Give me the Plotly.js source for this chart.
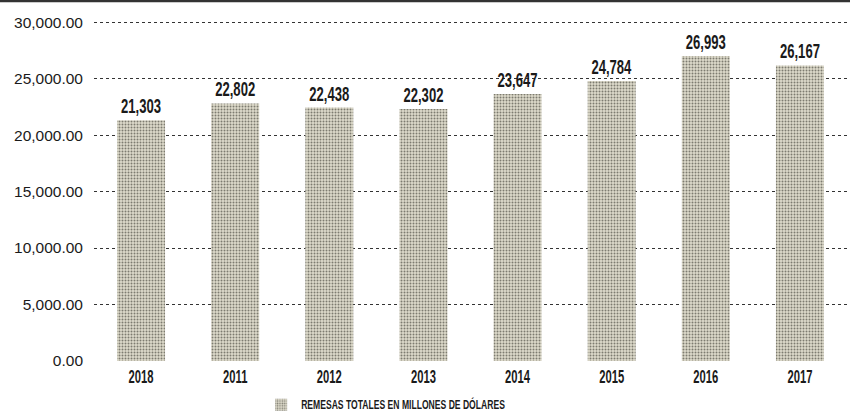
<!DOCTYPE html>
<html>
<head>
<meta charset="utf-8">
<script src="https://cdn.plot.ly/plotly-3.0.1.min.js"></script>
<style>html,body{margin:0;padding:0;background:#fff}#chart{width:850px;height:414px}</style>
</head>
<body>
<div id="chart"></div>
<script>
const categories = ["2018", "2011", "2012", "2013", "2014", "2015", "2016", "2017"];
const values = [21303, 22802, 22438, 22302, 23647, 24784, 26993, 26167];
const valueLabels = ["21,303", "22,802", "22,438", "22,302", "23,647", "24,784", "26,993", "26,167"];
const seriesName = "REMESAS TOTALES EN MILLONES DE DÓLARES";
const yTicks = [0, 5000, 10000, 15000, 20000, 25000, 30000];

const sans = '"Liberation Sans", Arial, Helvetica, sans-serif';

const trace = {
  type: 'bar',
  x: categories,
  y: values,
  name: seriesName,
  text: valueLabels,
  textposition: 'outside',
  constraintext: 'none',
  cliponaxis: false,
  textfont: {family: sans, size: 20, color: '#1a1a1a', weight: 'bold'},
  marker: {
    color: '#dedbcb',
    line: {width: 0},
    pattern: {shape: '.', fgcolor: '#7d7b70', bgcolor: '#dedbcb', size: 3, solidity: 0.35}
  },
  hoverinfo: 'skip'
};

const layout = {
  width: 850, height: 414,
  margin: {l: 94, r: 3, t: 21, b: 52},
  paper_bgcolor: '#ffffff',
  plot_bgcolor: '#ffffff',
  bargap: 0.49,
  showlegend: true,
  legend: {
    orientation: 'h', x: 0.222, xanchor: 'left', y: -0.147, yanchor: 'bottom',
    font: {family: sans, size: 12, color: '#1a1a1a', weight: 'bold'},
    itemwidth: 30
  },
  xaxis: {
    type: 'category',
    showgrid: false, zeroline: false, showline: false,
    ticks: '', ticklen: 0,
    ticklabelstandoff: 3,
    tickfont: {family: sans, size: 18, color: '#1a1a1a', weight: 'bold'},
    automargin: false
  },
  yaxis: {
    range: [0, 30100],
    tickvals: yTicks,
    tickformat: ',.2f',
    showgrid: true, gridcolor: '#333', griddash: 'dot', gridwidth: 1,
    zeroline: false, showline: false,
    ticks: '',
    ticklabelstandoff: 10,
    tickfont: {family: sans, size: 15.5, color: '#1a1a1a'},
    automargin: false
  },
  shapes: [
    {type: 'line', xref: 'paper', yref: 'paper', x0: -0.13, x1: 1.01, y0: 1.0587, y1: 1.0587,
     line: {color: '#333', width: 2.5}}
  ]
};

// Narrow (condensed) lettering like the printed chart: squeeze text horizontally
function condense(nodes, targetWidth, anchor) {
  if (!nodes.length) return;
  const w0 = nodes[0].getBBox().width;
  if (!w0) return;
  const s = targetWidth / w0;
  nodes.forEach(function (el) {
    const b = el.getBBox();
    const cx = anchor === 'left' ? b.x : b.x + b.width / 2;
    const t = el.getAttribute('transform') || '';
    el.setAttribute('transform', t + ' translate(' + cx + ',0) scale(' + s + ',1) translate(' + (-cx) + ',0)');
  });
}

Plotly.newPlot('chart', [trace], layout, {displayModeBar: false, staticPlot: true}).then(function (gd) {
  condense(Array.from(gd.querySelectorAll('text.bartext')), 40, 'center');
  condense(Array.from(gd.querySelectorAll('.xtick text')), 25, 'center');
  condense(Array.from(gd.querySelectorAll('.legendtext')), 204, 'left');
  const lg = gd.querySelector('g.legend');
  if (lg) lg.setAttribute('transform', (lg.getAttribute('transform') || '') + ' translate(0,7)');
});
</script>
</body>
</html>
